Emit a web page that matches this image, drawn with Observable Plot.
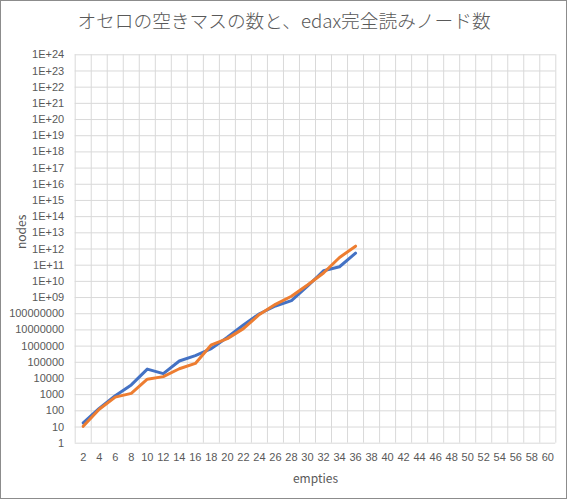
<!DOCTYPE html>
<html>
<head>
<meta charset="utf-8">
<script src="https://cdn.jsdelivr.net/npm/d3@7"></script>
<script src="https://cdn.jsdelivr.net/npm/@observablehq/plot@0.6"></script>
<style>
  html, body { margin: 0; padding: 0; background: #fff; }
  #chart svg { display: block; outline: 1px solid #8c8c8c; outline-offset: -1px; }
</style>
</head>
<body>
<div id="chart"></div>
<script>
const titleText = "オセロの空きマスの数と、edax完全読みノード数";
const xTitle = "empties";
const yTitle = "nodes";

// category tick labels on the x axis
const xCategories = d3.range(2, 61, 2);
// measured points
const empties = [2, 4, 6, 8, 10, 12, 14, 16, 18, 20, 22, 24, 26, 28, 30, 32, 34, 36];
const blueNodes = [18, 140, 850, 4000, 38000, 20000, 120000, 260000, 7e5, 3.5e6, 2e7, 1e8, 3e8, 6.5e8, 5e9, 4.5e10, 8e10, 5.5e11];
const orangeNodes = [11, 125, 700, 1200, 9000, 13000, 40000, 85000, 1.2e6, 2.9e6, 1.2e7, 9e7, 3.8e8, 1.2e9, 6e9, 3.3e10, 3e11, 1.5e12];
// y tick values (powers of ten)
const yTicks = d3.range(0, 25).map(e => Math.pow(10, e));

const blueData = empties.map((e, i) => ({empties: e, nodes: blueNodes[i]}));
const orangeData = empties.map((e, i) => ({empties: e, nodes: orangeNodes[i]}));
// category boundaries for vertical gridlines
const xBounds = [xCategories[0] - 1, ...xCategories.map(c => c + 1)];

function fmt(d) {
  const e = Math.round(Math.log10(d));
  if (e < 9) return String(Math.round(d));
  return "1E+" + String(e).padStart(2, "0");
}

const W = 567, H = 499;
const mL = 74.7, mR = 11.7, mT = 54.3, mB = 56.3;
const plotCenter = mL + (W - mL - mR) / 2;

const chart = Plot.plot({
  width: W,
  height: H,
  marginLeft: mL,
  marginRight: mR,
  marginTop: mT,
  marginBottom: mB,
  style: {fontFamily: "'Liberation Sans', 'Noto Sans CJK JP', sans-serif", fontSize: "11px", color: "#595959", background: "#fff"},
  x: {type: "linear", domain: [xBounds[0], xBounds[xBounds.length - 1]]},
  y: {type: "log", domain: [1, 1e24]},
  marks: [
    Plot.ruleY(yTicks, {y: d => d, stroke: "#d9d9d9", strokeWidth: 1, strokeOpacity: 1}),
    Plot.ruleX(xBounds, {x: d => d, stroke: "#d9d9d9", strokeWidth: 1, strokeOpacity: 1}),
    Plot.axisY({ticks: yTicks, tickFormat: fmt, tickSize: 0, tickPadding: 11, label: null, fill: "#595959"}),
    Plot.axisX({ticks: xCategories, tickFormat: d => String(d), tickSize: 0, tickPadding: 10, label: null, fill: "#595959"}),
    Plot.line(blueData, {x: "empties", y: "nodes", stroke: "#4472C4", strokeWidth: 3, strokeLinejoin: "round", strokeLinecap: "round"}),
    Plot.line(orangeData, {x: "empties", y: "nodes", stroke: "#ED7D31", strokeWidth: 3, strokeLinejoin: "round", strokeLinecap: "round"}),
    Plot.text([titleText], {frameAnchor: "top", dx: W / 2 - plotCenter, dy: -33, lineAnchor: "middle", fontSize: 18.7, fill: "#595959", fontFamily: "'Noto Sans CJK JP', sans-serif", fontWeight: 300}),
    Plot.text([yTitle], {frameAnchor: "left", dx: -53, rotate: -90, fontSize: 12, fill: "#595959", fontFamily: "'Noto Sans CJK JP', sans-serif"}),
    Plot.text([xTitle], {frameAnchor: "bottom", dy: 36, lineAnchor: "middle", fontSize: 12, fill: "#595959", fontFamily: "'Noto Sans CJK JP', sans-serif"})
  ]
});
document.getElementById("chart").appendChild(chart);
</script>
</body>
</html>
